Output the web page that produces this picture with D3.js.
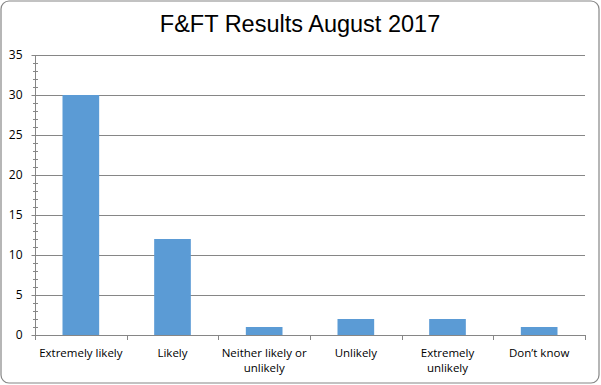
<!DOCTYPE html>
<html><head><meta charset="utf-8">
<script src="https://cdn.jsdelivr.net/npm/d3@7"></script>
<style>body{margin:0;background:#fff}svg{display:block}</style>
</head><body>
<script>
const categories = [["Extremely likely"],["Likely"],["Neither likely or","unlikely"],["Unlikely"],["Extremely","unlikely"],["Don\u2019t know"]];
const values = [30, 12, 1, 2, 2, 1];
const yTicks = [0,5,10,15,20,25,30,35];
const title = "F&FT Results August 2017";

(function(){
const W = 601, H = 385;
const svg = d3.select("body").append("svg").attr("width", W).attr("height", H);
svg.append("rect").attr("x",1).attr("y",1).attr("width",598).attr("height",382)
  .attr("rx",8).attr("fill","#fff").attr("stroke","#868686").attr("stroke-width",1.2);

const mL = 35, mR = 585, mT = 55, mB = 335;
const x = d3.scaleBand().domain(d3.range(categories.length)).range([mL, mR]).paddingInner(0.6).paddingOuter(0.3);
const y = d3.scaleLinear().domain([0,35]).range([mB, mT]);

svg.append("g").selectAll("line").data(yTicks.filter(d=>d>0)).join("line")
  .attr("x1", mL).attr("x2", mR).attr("y1", d=>Math.round(y(d))+0.5).attr("y2", d=>Math.round(y(d))+0.5)
  .attr("stroke","#868686").attr("stroke-width",1);

svg.append("g").selectAll("rect").data(values).join("rect")
  .attr("x",(d,i)=>x(i)).attr("width",x.bandwidth())
  .attr("y",d=>y(d)).attr("height",d=>y(0)-y(d)).attr("fill","#5b9bd5");

const yAxis = d3.axisLeft(y).tickValues(yTicks).tickSize(4).tickPadding(9).tickFormat(d3.format("d"));
const gy = svg.append("g").attr("transform",`translate(${mL+0.5},0)`).call(yAxis);
gy.select(".domain").attr("stroke","#868686").attr("d",`M0,${mT}V${mB}`);
gy.selectAll(".tick line").attr("stroke","#868686");
gy.selectAll(".tick text").attr("font-family","'Open Sans', sans-serif").attr("font-size",12).attr("fill","#000");
svg.append("g").selectAll("line").data(d3.range(0,36).filter(d=>d%5!==0)).join("line")
  .attr("x1",mL-2).attr("x2",mL+3).attr("y1",d=>Math.round(y(d))+0.5).attr("y2",d=>Math.round(y(d))+0.5)
  .attr("stroke","#868686");

const edges = d3.range(categories.length+1).map(i=> mL + i*(mR-mL)/categories.length);
svg.append("line").attr("x1",mL).attr("x2",mR).attr("y1",mB+0.5).attr("y2",mB+0.5).attr("stroke","#868686");
svg.append("g").selectAll("line").data(edges).join("line")
  .attr("x1",d=>Math.round(d)+0.5).attr("x2",d=>Math.round(d)+0.5).attr("y1",mB).attr("y2",mB+5).attr("stroke","#868686");
const lab = svg.append("g").selectAll("text").data(categories).join("text")
  .attr("text-anchor","middle").attr("font-family","'Open Sans', sans-serif").attr("font-size",11.5).attr("fill","#000")
  .attr("x",(d,i)=>x(i)+x.bandwidth()/2).attr("y",357);
lab.selectAll("tspan").data(d=>d).join("tspan")
  .attr("x",function(){return this.parentNode.getAttribute("x");})
  .attr("dy",(d,i)=>i===0?0:15).text(d=>d);

svg.append("text").attr("x",300).attr("y",32).attr("text-anchor","middle")
  .attr("font-family","'Liberation Sans', Arial, sans-serif").attr("font-size",23.5).attr("fill","#000").text(title);
})();
</script>
</body></html>
